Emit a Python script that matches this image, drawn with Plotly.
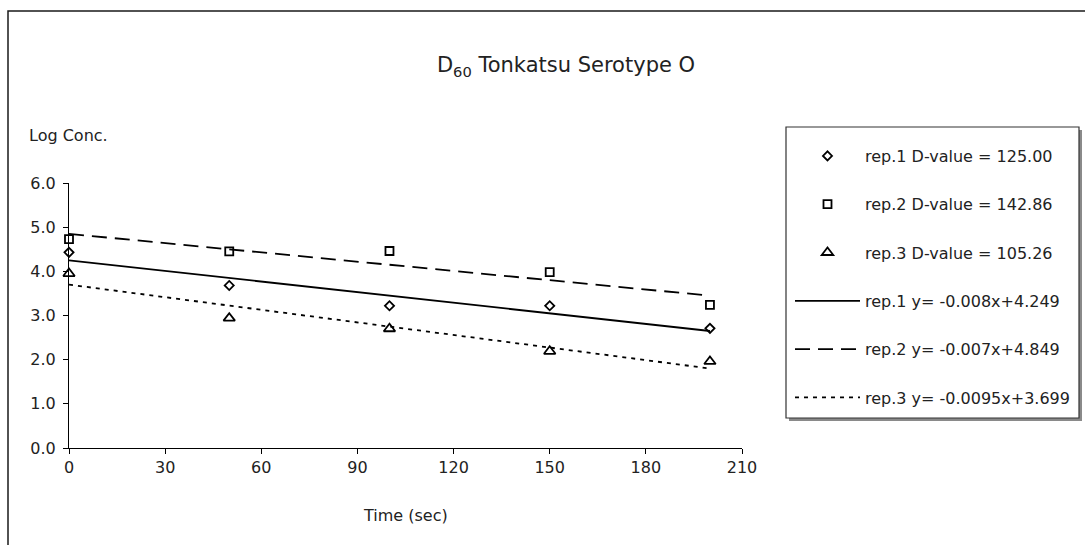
import plotly.graph_objects as go

# Sampling times (sec)
time_sec = [0, 50, 100, 150, 200]

# Log concentration for each replicate
rep1_log = [4.43, 3.68, 3.22, 3.22, 2.71]
rep2_log = [4.73, 4.45, 4.46, 3.98, 3.24]
rep3_log = [3.95, 2.94, 2.70, 2.19, 1.96]

# Linear trend coefficients (y = slope*x + intercept)
rep_names = ["rep.1", "rep.2", "rep.3"]
slopes = [-0.008, -0.007, -0.0095]
intercepts = [4.249, 4.849, 3.699]
slope_text = ["-0.008", "-0.007", "-0.0095"]
intercept_text = ["4.249", "4.849", "3.699"]

# Axis ticks
x_ticks = [0, 30, 60, 90, 120, 150, 180, 210]
y_ticks = [0.0, 1.0, 2.0, 3.0, 4.0, 5.0, 6.0]

FONT = "DejaVu Sans"
W, H = 1085, 545
L, R, T, B = 69, 343, 183, 97

symbols = ["diamond-open", "square-open", "triangle-up-open"]
sizes = [7, 8, 10]
dashes = ["solid", "15px,8px", "4px,5px"]
series = [rep1_log, rep2_log, rep3_log]

fig = go.Figure()

for i, ys in enumerate(series):
    d_value = -1.0 / slopes[i]
    fig.add_trace(go.Scatter(
        x=time_sec, y=ys, mode="markers",
        name=f"{rep_names[i]} D-value = {d_value:.2f}",
        legendgroup=f"pts{i}",
        marker=dict(symbol=symbols[i], size=sizes[i], color="black",
                    line=dict(color="black", width=1.8)),
        cliponaxis=False,
    ))

x_fit = [time_sec[0], time_sec[-1]]
for i in range(3):
    y_fit = [slopes[i] * x + intercepts[i] for x in x_fit]
    fig.add_trace(go.Scatter(
        x=x_fit, y=y_fit, mode="lines",
        name=f"{rep_names[i]} y= {slope_text[i]}x+{intercept_text[i]}",
        legendgroup=f"fit{i}",
        line=dict(color="black", width=1.8, dash=dashes[i]),
    ))

pw, ph = W - L - R, H - T - B


def px_x(v):
    return (v - L) / pw


def px_y(v):
    return (H - B - v) / ph


# Outer frame (only its top and left edges fall inside the page)
fig.add_shape(type="rect", xref="paper", yref="paper",
              x0=px_x(8), x1=px_x(W + 10), y0=px_y(H + 10), y1=px_y(11),
              line=dict(color="#1a1a1a", width=1.5), fillcolor="rgba(0,0,0,0)",
              layer="below")

# Legend box with a soft grey drop shadow
fig.add_shape(type="rect", xref="paper", yref="paper",
              x0=px_x(789), x1=px_x(1082), y0=px_y(421), y1=px_y(130),
              line=dict(width=0), fillcolor="#8a8a8a", layer="above")
fig.add_shape(type="rect", xref="paper", yref="paper",
              x0=px_x(786), x1=px_x(1079), y0=px_y(418), y1=px_y(127),
              line=dict(color="#333", width=1.2), fillcolor="white", layer="above")

fig.add_annotation(text="Log Conc.", xref="paper", yref="paper",
                   x=px_x(27), y=px_y(135),
                   xanchor="left", yanchor="middle", showarrow=False,
                   font=dict(family=FONT, size=16, color="#222"))
fig.add_annotation(text="Time (sec)", xref="paper", yref="paper",
                   x=0.5, y=px_y(515),
                   xanchor="center", yanchor="middle", showarrow=False,
                   font=dict(family=FONT, size=16, color="#222"))

fig.update_layout(
    width=W, height=H,
    margin=dict(l=L, r=R, t=T, b=B),
    paper_bgcolor="white", plot_bgcolor="white",
    font=dict(family=FONT, size=16, color="#222"),
    title=dict(text="D<sub>60</sub> Tonkatsu Serotype O",
               xref="container", yref="container",
               x=566 / W, y=1 - 65 / H, xanchor="center", yanchor="middle",
               font=dict(family=FONT, size=21, color="#222")),
    xaxis=dict(range=[0, 210], tickvals=x_ticks, showgrid=False, zeroline=False,
               showline=True, linecolor="black", linewidth=1.2,
               ticks="outside", ticklen=5, tickcolor="black",
               tickfont=dict(family=FONT, size=16, color="#222")),
    yaxis=dict(range=[0, 6], tickvals=y_ticks, tickformat=".1f",
               showgrid=False, zeroline=False,
               showline=True, linecolor="black", linewidth=1.2,
               ticks="outside", ticklen=5, tickcolor="black",
               ticklabelstandoff=4,
               tickfont=dict(family=FONT, size=16, color="#222")),
    legend=dict(xref="container", yref="container",
                x=790 / W, y=1 - 139 / H, xanchor="left", yanchor="top",
                bgcolor="rgba(0,0,0,0)", borderwidth=0,
                font=dict(family=FONT, size=16, color="#222"),
                itemwidth=65, tracegroupgap=24.5, traceorder="grouped",
                maxheight=520),
    showlegend=True,
)

fig.write_html("out.html")
